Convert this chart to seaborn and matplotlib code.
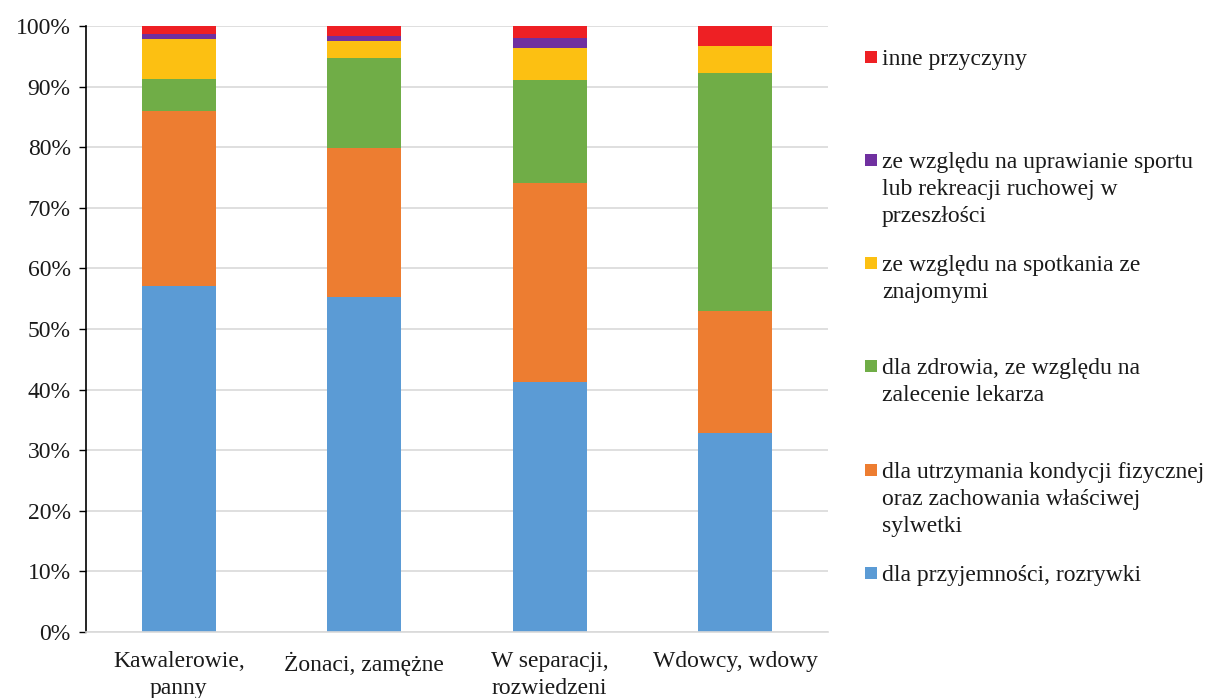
import matplotlib
matplotlib.use("Agg")
import matplotlib.pyplot as plt
from matplotlib.patches import Rectangle
from matplotlib.ticker import PercentFormatter
import numpy as np
import pandas as pd
import seaborn as sns

# Kategorie (stan cywilny)
categories = ["Kawalerowie,\npanny", "Żonaci, zamężne", "W separacji,\nrozwiedzeni", "Wdowcy, wdowy"]

# Udziały procentowe poszczególnych przyczyn (od dołu słupka)
przyjemnosc = [57.1, 55.3, 41.2, 32.8]
kondycja = [28.9, 24.6, 32.9, 20.2]
zdrowie = [5.25, 14.9, 17.0, 39.3]
spotkania = [6.6, 2.7, 5.2, 4.45]
sport = [0.75, 0.9, 1.8, 0.0]
inne = [1.4, 1.6, 1.9, 3.25]

series_labels = [
    "dla przyjemności, rozrywki",
    "dla utrzymania kondycji fizycznej\noraz zachowania właściwej\nsylwetki",
    "dla zdrowia, ze względu na\nzalecenie lekarza",
    "ze względu na spotkania ze\nznajomymi",
    "ze względu na uprawianie sportu\nlub rekreacji ruchowej w\nprzeszłości",
    "inne przyczyny",
]
colors = ["#5B9BD5", "#ED7D31", "#70AD47", "#FCC012", "#7030A0", "#EE2024"]

df = pd.DataFrame(
    np.array([przyjemnosc, kondycja, zdrowie, spotkania, sport, inne]).T,
    columns=series_labels,
)
df["kategoria"] = categories
cum = df[series_labels].cumsum(axis=1)
cum["kategoria"] = categories

sns.set_style("white")
plt.rcParams["font.family"] = ["Liberation Serif", "DejaVu Serif"]

fig = plt.figure(figsize=(12.11, 6.98), dpi=100)
ax = fig.add_axes([86 / 1211, 66 / 698, (828 - 86) / 1211, (632 - 26) / 698])

# słupki skumulowane: rysowane od najwyższej sumy w dół
for lab, col in reversed(list(zip(series_labels, colors))):
    sns.barplot(data=cum, x="kategoria", y=lab, color=col, width=0.4,
                saturation=1, ax=ax, linewidth=0, order=categories)

ax.set_ylim(0, 100)
ax.set_xlim(-0.5, 3.5)
ax.set_yticks(np.arange(0, 101, 10))
ax.yaxis.set_major_formatter(PercentFormatter(decimals=0))
ax.set_xlabel("")
ax.set_ylabel("")
ax.grid(axis="y", color="#D9D9D9", linewidth=1.2)
ax.set_axisbelow(True)

for s in ["top", "right"]:
    ax.spines[s].set_visible(False)
ax.spines["left"].set_color("black")
ax.spines["left"].set_linewidth(1.2)
ax.spines["bottom"].set_color("#D9D9D9")
ax.spines["bottom"].set_linewidth(1.2)

ax.tick_params(axis="y", direction="out", length=5, width=1, color="black",
               labelsize=17, pad=6, left=True, labelcolor="#1a1a1a")
ax.tick_params(axis="x", length=0, labelsize=17, pad=14, labelcolor="#1a1a1a")
ax.set_xticks([-0.5, 0.5, 1.5, 2.5, 3.5], minor=True)
ax.tick_params(axis="x", which="minor", length=6, width=1, color="#D9D9D9", direction="out")
for t in ax.get_xticklabels():
    t.set_linespacing(1.35)

# legenda (od góry: odwrócona kolejność)
legend_y = [57, 160, 263, 366, 470, 573]
for y, lab, col in zip(legend_y, reversed(series_labels), reversed(colors)):
    fig.patches.append(Rectangle((865 / 1211, 1 - (y + 6) / 698), 12 / 1211, 12 / 698,
                                 transform=fig.transFigure, facecolor=col, edgecolor="none"))
    fig.text(882 / 1211, 1 - (y - 8) / 698, lab, fontsize=17, va="top", ha="left",
             color="#1a1a1a", linespacing=1.37)

fig.savefig("out.png", dpi=100)
